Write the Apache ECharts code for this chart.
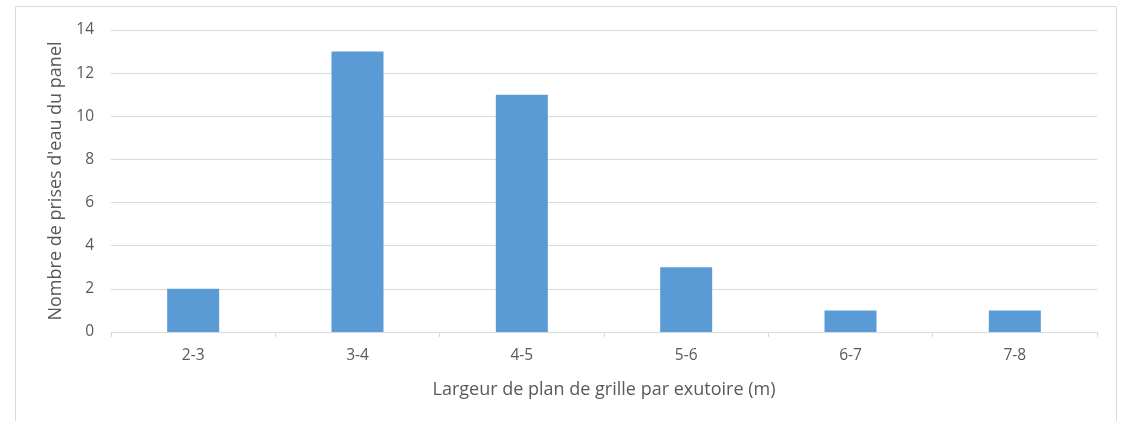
<!DOCTYPE html>
<html lang="fr">
<head>
  <meta charset="UTF-8">
  <title>bar</title>
  <style>
    html, body { margin:0; padding:0; background:#fff; }
    #chart { width:1127px; height:421px; }
  </style>
</head>
<body>
  <div id="chart"></div>
  <script src="https://cdn.jsdelivr.net/npm/echarts@6/dist/echarts.min.js"></script>
  <script>
    var categories = ['2-3', '3-4', '4-5', '5-6', '6-7', '7-8']
    var counts = [2, 13, 11, 3, 1, 1]

    var myChart = echarts.init(document.getElementById('chart'))
    var font = '"Open Sans", sans-serif'
    var option = {
      animation: false,
      textStyle: { fontFamily: font },
      graphic: [{
        type: 'rect',
        shape: { x: 15.5, y: 6.5, width: 1101, height: 430 },
        style: { fill: 'none', stroke: '#d9d9d9', lineWidth: 1 },
        silent: true
      }],
      grid: { left: 111, right: 30, top: 30, bottom: 89 },
      xAxis: {
        type: 'category',
        data: categories,
        name: 'Largeur de plan de grille par exutoire (m)',
        nameLocation: 'middle',
        nameGap: 49,
        nameTextStyle: { color: '#595959', fontSize: 18, fontFamily: font },
        axisLine: { lineStyle: { color: '#d9d9d9' } },
        axisTick: { show: true, length: 5, lineStyle: { color: '#d9d9d9' } },
        axisLabel: { color: '#595959', fontSize: 15.5, margin: 16, fontFamily: font }
      },
      yAxis: {
        type: 'value',
        min: 0,
        max: 14,
        interval: 2,
        name: "Nombre de prises d'eau du panel",
        nameLocation: 'middle',
        nameGap: 45,
        nameTextStyle: { color: '#595959', fontSize: 18, fontFamily: font },
        axisLine: { show: false },
        axisTick: { show: false },
        axisLabel: { color: '#595959', fontSize: 15.5, margin: 17, fontFamily: font },
        splitLine: { lineStyle: { color: '#d9d9d9' } }
      },
      series: [{
        type: 'bar',
        data: counts,
        barWidth: 52,
        itemStyle: { color: '#5b9bd5' }
      }]
    }
    myChart.setOption(option)
  </script>
</body>
</html>
